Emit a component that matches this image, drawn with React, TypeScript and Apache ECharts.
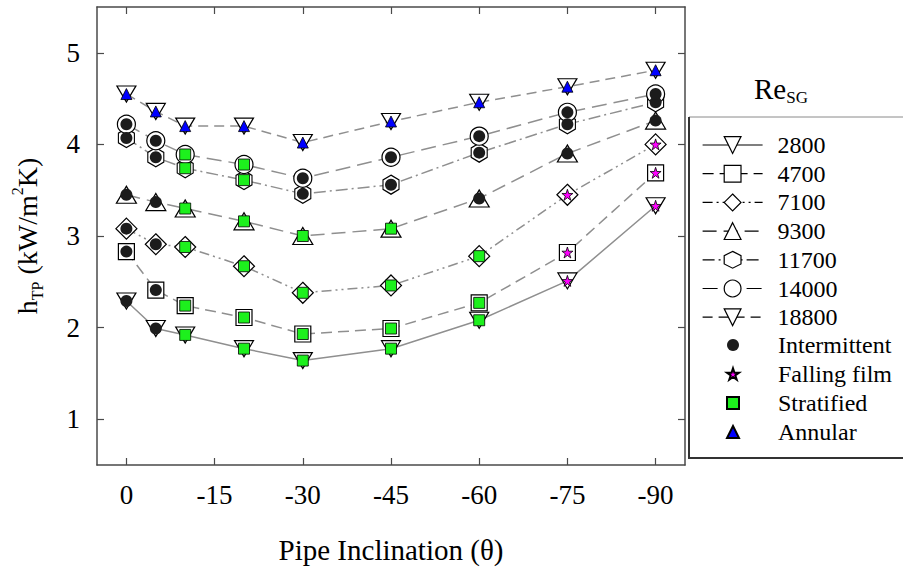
import React, { useEffect, useRef } from "react";
import * as echarts from "echarts";

// Pipe inclination (degrees) at which each run was measured
const inclination = [0, -5, -10, -20, -30, -45, -60, -75, -90];
const xTickValues = [0, -15, -30, -45, -60, -75, -90];
const yTickValues = [1, 2, 3, 4, 5];

// Two-phase heat transfer coefficient h_TP (kW/m²K) for each superficial gas Reynolds number
const h2800 = [2.29, 1.99, 1.92, 1.77, 1.64, 1.77, 2.08, 2.51, 3.33];
const h4700 = [2.83, 2.41, 2.24, 2.11, 1.93, 1.99, 2.27, 2.82, 3.69];
const h7100 = [3.08, 2.91, 2.88, 2.67, 2.38, 2.46, 2.78, 3.45, 4.0];
const h9300 = [3.45, 3.37, 3.3, 3.16, 3.0, 3.08, 3.41, 3.9, 4.26];
const h11700 = [4.07, 3.86, 3.74, 3.61, 3.46, 3.56, 3.91, 4.22, 4.46];
const h14000 = [4.22, 4.04, 3.89, 3.78, 3.63, 3.86, 4.09, 4.35, 4.55];
const h18800 = [4.55, 4.36, 4.2, 4.2, 4.02, 4.25, 4.46, 4.63, 4.81];

// Observed flow pattern at each point: I intermittent, F falling film, S stratified, A annular
const regime2800 = ["I", "I", "S", "S", "S", "S", "S", "F", "F"];
const regime4700 = ["I", "I", "S", "S", "S", "S", "S", "F", "F"];
const regime7100 = ["I", "I", "S", "S", "S", "S", "S", "F", "F"];
const regime9300 = ["I", "I", "S", "S", "S", "S", "I", "I", "I"];
const regime11700 = ["I", "I", "S", "S", "I", "I", "I", "I", "I"];
const regime14000 = ["I", "I", "S", "S", "I", "I", "I", "I", "I"];
const regime18800 = ["A", "A", "A", "A", "A", "A", "A", "A", "A"];

const SERIF = "Times New Roman, Liberation Serif, DejaVu Serif, serif";

const DOWN_TRIANGLE = "path://M0,0L2,0L1,1.7Z";
const HEXAGON = "path://M0,-1L0.866,-0.5L0.866,0.5L0,1L-0.866,0.5L-0.866,-0.5Z";
const STAR =
  "path://M0,-1L0.2245,-0.309L0.951,-0.309L0.3633,0.118L0.5878,0.809L0,0.382L-0.5878,0.809L-0.3633,0.118L-0.951,-0.309L-0.2245,-0.309Z";

const runs = [
  { name: "2800", values: h2800, regime: regime2800, symbol: DOWN_TRIANGLE, size: [19, 16], dash: "solid" as any },
  { name: "4700", values: h4700, regime: regime4700, symbol: "rect", size: [16, 16], dash: [11, 6] },
  { name: "7100", values: h7100, regime: regime7100, symbol: "diamond", size: [21, 21], dash: [10, 4, 2, 4, 2, 4] },
  { name: "9300", values: h9300, regime: regime9300, symbol: "triangle", size: [20, 17], dash: [14, 7] },
  { name: "11700", values: h11700, regime: regime11700, symbol: HEXAGON, size: [16, 19], dash: [12, 4, 2, 4] },
  { name: "14000", values: h14000, regime: regime14000, symbol: "circle", size: [18, 18], dash: [15, 7] },
  { name: "18800", values: h18800, regime: regime18800, symbol: DOWN_TRIANGLE, size: [19, 16], dash: [10, 6] },
];

const patterns = [
  { code: "I", name: "Intermittent", symbol: "circle", size: 12, color: "#1c1c1c", border: "#000" },
  { code: "F", name: "Falling film", symbol: STAR, size: 11, color: "#ff00ff", border: "#000" },
  { code: "S", name: "Stratified", symbol: "rect", size: 11, color: "#1df01d", border: "#000" },
  { code: "A", name: "Annular", symbol: "triangle", size: 11, color: "#0000ff", border: "#000" },
];

function buildOption(): echarts.EChartsOption {
  const lineSeries = runs.map((r) => ({
    name: r.name,
    type: "line" as const,
    data: inclination.map((x, i) => [x, r.values[i]]),
    symbol: r.symbol,
    symbolSize: r.size,
    showAllSymbol: true,
    z: 3,
    itemStyle: { color: "#ffffff", borderColor: "#000000", borderWidth: 1.2 },
    lineStyle: { color: "#8f8f8f", width: 1.5, type: r.dash },
    emphasis: { disabled: true },
  }));

  const patternSeries = patterns.map((p) => {
    const pts: number[][] = [];
    runs.forEach((r) => {
      r.regime.forEach((code, i) => {
        if (code === p.code) pts.push([inclination[i], r.values[i]]);
      });
    });
    return {
      name: p.name,
      type: "scatter" as const,
      data: pts,
      symbol: p.symbol,
      symbolSize: p.size,
      z: 5,
      itemStyle: { color: p.color, borderColor: p.border, borderWidth: p.code === "I" ? 0 : 0.8, opacity: 1 },
      emphasis: { disabled: true },
    };
  });

  const axisLineStyle = { color: "#4a4a4a", width: 1.5 };
  const tickStyle = { color: "#4a4a4a", width: 1.2 };
  const tickLabel = { fontFamily: SERIF, fontSize: 27, color: "#000" };

  return {
    animation: false,
    backgroundColor: "#ffffff",
    textStyle: { fontFamily: SERIF },
    grid: { left: 97, right: 218, top: 7, bottom: 104, containLabel: false },
    xAxis: [
      {
        type: "value",
        min: -95,
        max: 5,
        inverse: true,
        position: "bottom",
        axisLine: { show: true, onZero: false, lineStyle: axisLineStyle },
        axisTick: { show: true, inside: true, length: 7, customValues: xTickValues, lineStyle: tickStyle },
        axisLabel: { show: true, margin: 16, customValues: xTickValues, formatter: (v: number) => String(v), ...tickLabel },
        splitLine: { show: false },
        name: "Pipe Inclination (θ)",
        nameLocation: "middle",
        nameGap: 70,
        nameTextStyle: { fontFamily: SERIF, fontSize: 29, color: "#000" },
      },
      {
        type: "value",
        min: -95,
        max: 5,
        inverse: true,
        position: "top",
        axisLine: { show: true, onZero: false, lineStyle: axisLineStyle },
        axisTick: { show: true, inside: true, length: 7, customValues: xTickValues, lineStyle: tickStyle },
        axisLabel: { show: false },
        splitLine: { show: false },
      },
    ],
    yAxis: [
      {
        type: "value",
        min: 0.5,
        max: 5.5,
        position: "left",
        axisLine: { show: true, onZero: false, lineStyle: axisLineStyle },
        axisTick: { show: true, inside: true, length: 7, customValues: yTickValues, lineStyle: tickStyle },
        axisLabel: { show: true, margin: 17, customValues: yTickValues, formatter: (v: number) => String(v), ...tickLabel },
        splitLine: { show: false },
        name: "{m|h}{s|TP}{m| (kW/m}{p|2}{m|K)}",
        nameLocation: "middle",
        nameRotate: 90,
        nameGap: 52,
        nameTextStyle: {
          fontFamily: SERIF,
          rich: {
            m: { fontFamily: SERIF, fontSize: 28, lineHeight: 36, color: "#000" },
            s: { fontFamily: SERIF, fontSize: 16, lineHeight: 16, verticalAlign: "bottom", color: "#000" },
            p: { fontFamily: SERIF, fontSize: 16, lineHeight: 16, verticalAlign: "top", color: "#000" },
          },
        },
      },
      {
        type: "value",
        min: 0.5,
        max: 5.5,
        position: "right",
        axisLine: { show: true, onZero: false, lineStyle: axisLineStyle },
        axisTick: { show: true, inside: true, length: 7, customValues: yTickValues, lineStyle: tickStyle },
        axisLabel: { show: false },
        splitLine: { show: false },
      },
    ],
    legend: [
      {
        data: runs.map((r) => r.name),
        orient: "vertical",
        left: 702,
        top: 133,
        padding: 0,
        itemWidth: 60,
        itemHeight: 21,
        itemGap: 4.7,
        selectedMode: false,
        lineStyle: { color: "#000", width: 1.2 },
        itemStyle: { color: "#fff", borderColor: "#000", borderWidth: 1.2 },
        textStyle: { fontFamily: SERIF, fontSize: 24, color: "#000", padding: [0, 0, 0, 10] },
      },
      {
        data: patterns.map((p) => p.name),
        orient: "vertical",
        left: 726,
        top: 333,
        padding: 0,
        itemWidth: 12,
        itemHeight: 12,
        itemGap: 5,
        selectedMode: false,
        textStyle: { fontFamily: SERIF, fontSize: 24, color: "#000", padding: [0, 0, 0, 34] },
      },
    ],
    graphic: [
      {
        type: "rect",
        shape: { x: 689, y: 117, width: 240, height: 341 },
        style: { fill: "none", stroke: "#8a8a8a", lineWidth: 1 },
        silent: true,
      },
      {
        type: "line",
        shape: { x1: 689, y1: 117, x2: 689, y2: 459 },
        style: { stroke: "#333", lineWidth: 2 },
        silent: true,
      },
      {
        type: "line",
        shape: { x1: 689, y1: 458, x2: 903, y2: 458 },
        style: { stroke: "#333", lineWidth: 2 },
        silent: true,
      },
      {
        type: "text",
        left: 754,
        top: 74,
        style: {
          text: "{a|Re}{b|SG}",
          rich: {
            a: { fontFamily: SERIF, fontSize: 29, lineHeight: 34, fill: "#000" },
            b: { fontFamily: SERIF, fontSize: 17, lineHeight: 17, verticalAlign: "bottom", fill: "#000" },
          },
        } as any,
        silent: true,
      },
    ],
    series: [...lineSeries, ...patternSeries],
  };
}

export default function App() {
  const ref = useRef<HTMLDivElement>(null);
  useEffect(() => {
    if (!ref.current) return;
    const chart = echarts.init(ref.current, undefined, { renderer: "svg" });
    chart.setOption(buildOption());
    return () => chart.dispose();
  }, []);
  return (
    <div
      ref={ref}
      style={{ position: "fixed", left: 0, top: 0, width: 903, height: 569, background: "#fff" }}
    />
  );
}
